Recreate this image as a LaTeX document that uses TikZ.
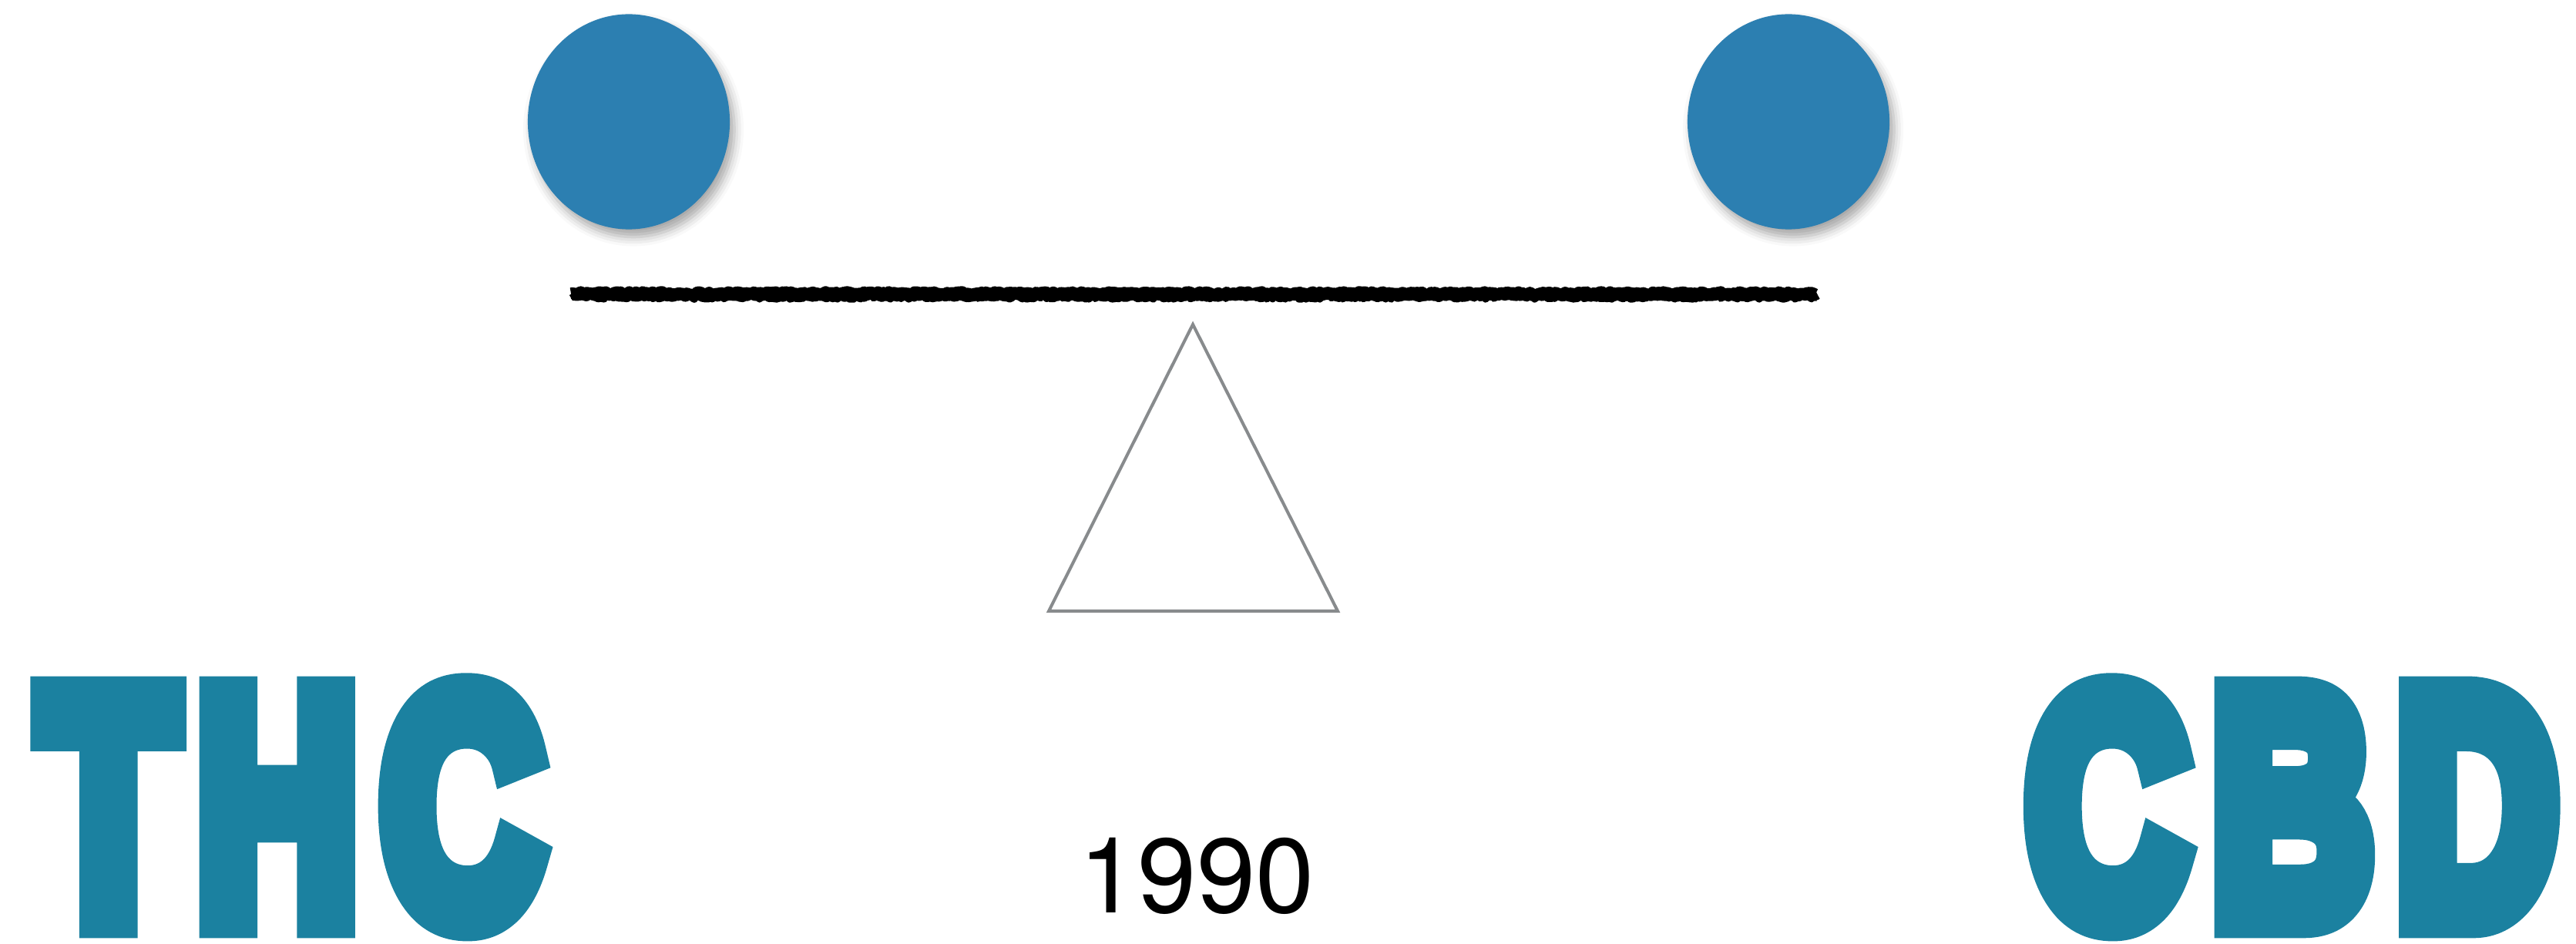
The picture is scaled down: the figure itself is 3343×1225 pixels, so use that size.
\documentclass[tikz,border=0pt]{standalone}
\usepackage{fontspec}
\setmainfont{TeX Gyre Heros}
\newfontfamily\heavyfont[FakeBold=12]{Liberation Sans}
\usetikzlibrary{shapes.geometric,shadows.blur,decorations.pathmorphing}
\definecolor{dotblue}{HTML}{2C7FB1}
\definecolor{wordteal}{HTML}{1B81A0}
\definecolor{pivotgray}{HTML}{888B8D}
\tikzset{dot/.style={ellipse, fill=dotblue, inner sep=0pt,
    minimum width=2.62cm, minimum height=2.79cm,
    blur shadow={shadow xshift=0.6mm, shadow yshift=-1mm, shadow blur radius=1.2mm, shadow opacity=35}},
  brush/.style={line width=4.4pt, line join=round, decorate,
    decoration={random steps, segment length=0.8pt, amplitude=0.55pt}},
  bigword/.style={inner sep=0pt, text=wordteal, xscale=0.68,
    font=\heavyfont\bfseries\fontsize{119.5}{119.5}\selectfont}}

\begin{document}
\begin{tikzpicture}[x=0.01cm, y=-0.01cm]
  \useasboundingbox (0,0) rectangle (3343,1225);
  % weights
  \node[dot] (lw) at (816,158) {};
  \node[dot] (rw) at (2321,158) {};
  % beam
  \coordinate (bl) at (741,381);
  \coordinate (br) at (2358,381);
  \pgfmathsetseed{7}
  \draw[brush] (bl) -- (br);
  \draw[brush, line width=2.4pt] ([yshift=-1.6pt]bl) -- ([yshift=-1.6pt]br);
  % pivot
  \coordinate (apex) at (1548,421);
  \coordinate (pl) at (1361,793);
  \coordinate (pr) at (1736,793);
  \draw[pivotgray, line width=1.15pt] (apex) -- (pl) -- (pr) -- cycle;
  % labels
  \node[bigword, anchor=base west] (thc) at (53,1192) {T\kern0.1em H\kern0.116em C};
  \node[bigword, anchor=base east] (cbd) at (3318,1192) {C\kern0.119em B\kern0.116em D};
  \node[font=\fontsize{39}{39}\selectfont] (yr) at (1553,1137) {1990};
\end{tikzpicture}
\end{document}
